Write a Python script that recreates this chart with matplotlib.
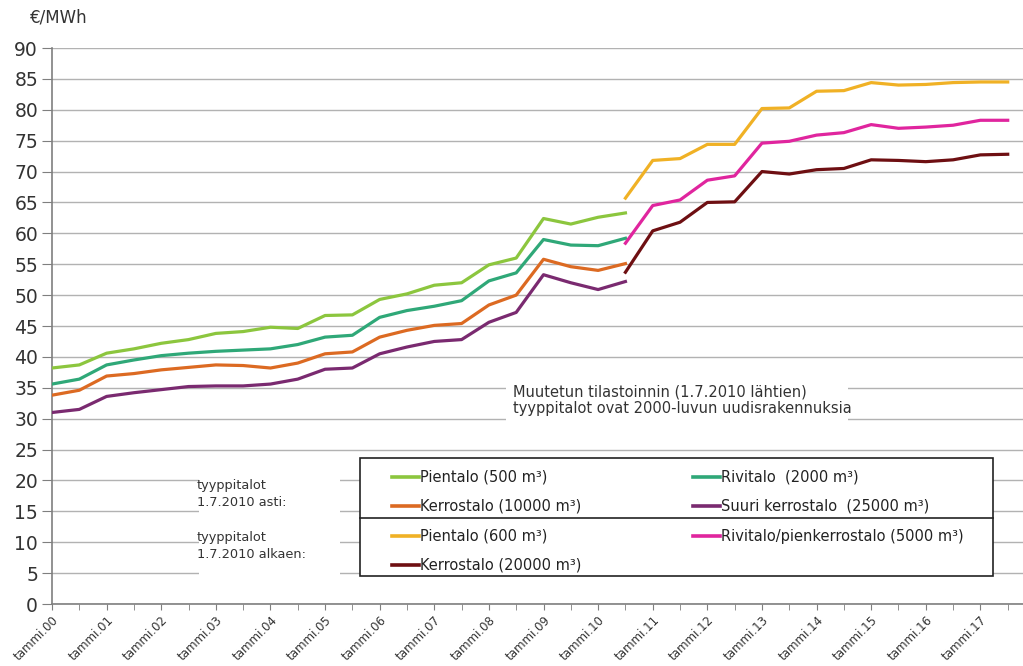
import matplotlib.pyplot as plt
import numpy as np
from matplotlib.lines import Line2D
from matplotlib.patches import Rectangle

# half-year periods (tammi / heinä)
old_periods = np.arange(2000, 2011, 0.5)      # 1/2000 .. 7/2010
new_periods = np.arange(2010.5, 2018, 0.5)    # 7/2010 .. 7/2017

pientalo_500 = [38.2, 38.7, 40.6, 41.3, 42.2, 42.8, 43.8, 44.1, 44.8, 44.6, 46.7,
                46.8, 49.3, 50.2, 51.6, 52.0, 54.9, 56.0, 62.4, 61.5, 62.6, 63.3]
rivitalo_2000 = [35.6, 36.4, 38.7, 39.5, 40.2, 40.6, 40.9, 41.1, 41.3, 42.0, 43.2,
                 43.5, 46.4, 47.5, 48.2, 49.1, 52.3, 53.6, 59.0, 58.1, 58.0, 59.2]
kerrostalo_10000 = [33.8, 34.6, 36.9, 37.3, 37.9, 38.3, 38.7, 38.6, 38.2, 39.0, 40.5,
                    40.8, 43.2, 44.3, 45.1, 45.4, 48.4, 50.0, 55.8, 54.6, 54.0, 55.1]
suuri_kerrostalo_25000 = [31.0, 31.5, 33.6, 34.2, 34.7, 35.2, 35.3, 35.3, 35.6, 36.4, 38.0,
                          38.2, 40.5, 41.6, 42.5, 42.8, 45.6, 47.2, 53.3, 52.0, 50.9, 52.2]

pientalo_600 = [65.7, 71.8, 72.1, 74.4, 74.4, 80.2, 80.3, 83.0, 83.1, 84.4, 84.0,
                84.1, 84.4, 84.5, 84.5]
rivitalo_5000 = [58.4, 64.5, 65.4, 68.6, 69.3, 74.6, 74.9, 75.9, 76.3, 77.6, 77.0,
                 77.2, 77.5, 78.3, 78.3]
kerrostalo_20000 = [53.7, 60.4, 61.8, 65.0, 65.1, 70.0, 69.6, 70.3, 70.5, 71.9, 71.8,
                    71.6, 71.9, 72.7, 72.8]

old_labels = ['Pientalo (500 m³)', 'Rivitalo  (2000 m³)',
              'Kerrostalo (10000 m³)', 'Suuri kerrostalo  (25000 m³)']
new_labels = ['Pientalo (600 m³)', 'Rivitalo/pienkerrostalo (5000 m³)',
              'Kerrostalo (20000 m³)']
old_colors = ['#8cc63e', '#2fa878', '#dc6a22', '#7a2a70']
new_colors = ['#f0b125', '#e0259e', '#6e0f12']

year_ticks = np.arange(2000, 2018)
year_labels = ['tammi.%02d' % (y % 100) for y in year_ticks]

W, H = 1023, 666


def fx(x):
    return x / W


def fy(y):
    return 1 - y / H


fig = plt.figure(figsize=(W / 100, H / 100), dpi=100)
ax = fig.add_axes([fx(52), fy(604), fx(W - 52), (604 - 48) / H])

for vals, color in zip([pientalo_500, rivitalo_2000, kerrostalo_10000, suuri_kerrostalo_25000], old_colors):
    ax.plot(old_periods, vals, color=color, lw=2.3, zorder=3)
for vals, color in zip([pientalo_600, rivitalo_5000, kerrostalo_20000], new_colors):
    ax.plot(new_periods, vals, color=color, lw=2.3, zorder=3)

ax.set_xlim(2000, 2017.78)
ax.set_ylim(0, 90)
ax.set_yticks(np.arange(0, 95, 5))
ax.yaxis.grid(True, color='#b2b2b2', lw=1.0)
ax.set_axisbelow(True)
for s in ['top', 'right']:
    ax.spines[s].set_visible(False)
for s in ['left', 'bottom']:
    ax.spines[s].set_color('#7f7f7f')
    ax.spines[s].set_linewidth(1.2)

ax.set_xticks(year_ticks)
ax.set_xticks(np.arange(2000.5, 2018, 1.0), minor=True)
ax.set_xticklabels(year_labels, rotation=45, ha='right', rotation_mode='anchor',
                   fontsize=8.5, color='#333333')
ax.tick_params(axis='x', which='both', direction='out', length=4, color='#7f7f7f', pad=3)
ax.tick_params(axis='y', direction='out', length=7, color='#7f7f7f', labelsize=13.5,
               labelcolor='#333333', pad=3)

fig.text(fx(30), fy(18), '€/MWh', fontsize=12, color='#333333', va='center')

# note about the changed statistics
fig.patches.append(Rectangle((fx(506), fy(428)), fx(848 - 506), (428 - 378) / H,
                             transform=fig.transFigure, facecolor='white', edgecolor='none', zorder=2))
fig.text(fx(513), fy(392), 'Muutetun tilastoinnin (1.7.2010 lähtien)', fontsize=10.5,
         color='#333333', va='center', zorder=4)
fig.text(fx(513), fy(409), 'tyyppitalot ovat 2000-luvun uudisrakennuksia', fontsize=10.5,
         color='#333333', va='center', zorder=4)

# group labels to the left of the legend
fig.patches.append(Rectangle((fx(199), fy(585)), fx(340 - 199), (585 - 470) / H,
                             transform=fig.transFigure, facecolor='white', edgecolor='none', zorder=2))
for text, y in [('tyyppitalot', 485), ('1.7.2010 asti:', 502),
                ('tyyppitalot', 537), ('1.7.2010 alkaen:', 554)]:
    fig.text(fx(197), fy(y), text, fontsize=9.3, color='#333333', va='center', zorder=4)

# legend box
fig.patches.append(Rectangle((fx(360), fy(576)), fx(993 - 360), (576 - 458) / H,
                             transform=fig.transFigure, facecolor='white', edgecolor='#222222',
                             lw=1.2, zorder=2))
fig.lines.append(Line2D([fx(360), fx(993)], [fy(518), fy(518)], transform=fig.transFigure,
                        color='#222222', lw=1.2, zorder=4))


def legend_entry(x, y, color, label):
    fig.lines.append(Line2D([fx(x), fx(x + 27)], [fy(y), fy(y)], transform=fig.transFigure,
                            color=color, lw=2.6, zorder=4))
    fig.text(fx(x + 28), fy(y), label, fontsize=10.5, color='#222222', va='center', zorder=4)


slots = [(392, 477), (693, 477), (392, 506), (693, 506)]
for (x, y), color, label in zip(slots, old_colors, old_labels):
    legend_entry(x, y, color, label)
slots = [(392, 536), (693, 536), (392, 565)]
for (x, y), color, label in zip(slots, new_colors, new_labels):
    legend_entry(x, y, color, label)

fig.savefig('out.png', dpi=100)
